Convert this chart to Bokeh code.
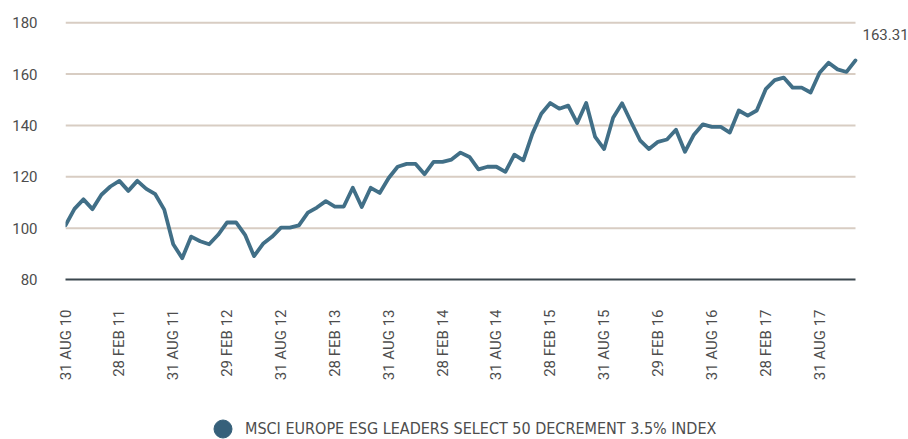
import math
from bokeh.plotting import figure
from bokeh.layouts import column
from bokeh.models import FixedTicker, Range1d, Label, Legend, LegendItem, ColumnDataSource
from bokeh.embed import file_html
from bokeh.resources import INLINE

series_name = "MSCI EUROPE ESG LEADERS SELECT 50 DECREMENT 3.5% INDEX"

# Month-end index levels, Aug 2010 .. Dec 2017
index_values = [
    101.1, 107.5, 111.2, 107.4, 113.0, 116.2, 118.4, 114.5, 118.4, 115.3,
    113.2, 107.2, 93.7, 88.3, 96.7, 94.9, 93.7, 97.4, 102.2, 102.2,
    97.4, 89.1, 93.9, 96.6, 100.2, 100.2, 101.1, 106.0, 108.0, 110.5,
    108.4, 108.4, 115.7, 108.2, 115.7, 113.7, 119.5, 123.9, 125.0, 125.0,
    121.0, 125.8, 125.8, 126.7, 129.4, 127.7, 122.9, 123.9, 123.9, 121.9,
    128.6, 126.4, 136.7, 144.5, 148.7, 146.5, 147.7, 140.9, 148.7, 135.5,
    130.8, 143.0, 148.6, 141.3, 134.2, 130.8, 133.6, 134.5, 138.3, 129.7,
    136.4, 140.4, 139.4, 139.4, 137.2, 145.8, 143.8, 145.8, 154.1, 157.6,
    158.6, 154.7, 154.7, 152.8, 160.5, 164.4, 161.8, 160.8, 165.3,
]
months = list(range(len(index_values)))

tick_months = [0, 6, 12, 18, 24, 30, 36, 42, 48, 54, 60, 66, 72, 78, 84]
tick_labels = ["31 AUG 10", "28 FEB 11", "31 AUG 11", "29 FEB 12", "31 AUG 12",
               "28 FEB 13", "31 AUG 13", "28 FEB 14", "31 AUG 14", "28 FEB 15",
               "31 AUG 15", "29 FEB 16", "31 AUG 16", "28 FEB 17", "31 AUG 17"]
y_ticks = [80, 100, 120, 140, 160, 180]
grid_levels = [100, 120, 140, 160, 180]
end_label = "163.31"

LINE = "#416f87"
GRID = "#d8cdc3"
TEXT = "#4d4d4d"
DOT = "#36607a"

W = 908
LEFT = 65
DATA_W = 790                      # pixel width of the data span
FRAME_W = W - LEFT
x_end = months[-1] * FRAME_W / DATA_W   # extra room on the right for the end label

p = figure(width=W, height=389, output_backend="svg", toolbar_location=None,
           x_range=Range1d(months[0], x_end), y_range=Range1d(80, 182),
           min_border_left=LEFT, min_border_right=0, min_border_top=17,
           min_border_bottom=110)
p.outline_line_color = None
p.background_fill_color = "white"
p.border_fill_color = "white"
p.xgrid.grid_line_color = None
p.ygrid.grid_line_color = None

# horizontal grid lines spanning the data period only
p.segment(x0=[months[0]] * len(grid_levels), x1=[months[-1]] * len(grid_levels),
          y0=grid_levels, y1=grid_levels, line_color=GRID, line_width=2)

src = ColumnDataSource(dict(x=months, y=index_values))
p.line("x", "y", source=src, line_color=LINE, line_width=3.8, line_join="round", line_cap="round")

# x axis
p.xaxis.bounds = (months[0], months[-1])
p.xaxis.ticker = FixedTicker(ticks=tick_months)
p.xaxis.major_label_overrides = {m: lab for m, lab in zip(tick_months, tick_labels)}
p.xaxis.major_label_orientation = math.pi / 2
p.xaxis.major_label_text_font = "Roboto"
p.xaxis.major_label_text_font_size = "15px"
p.xaxis.major_label_text_color = TEXT
p.xaxis.major_label_standoff = 24
p.xaxis.axis_line_color = "#3b474e"
p.xaxis.axis_line_width = 2
p.xaxis.major_tick_line_color = None
p.xaxis.minor_tick_line_color = None

# y axis
p.yaxis.ticker = FixedTicker(ticks=y_ticks)
p.yaxis.major_label_text_font = "Roboto"
p.yaxis.major_label_text_font_size = "15px"
p.yaxis.major_label_text_color = TEXT
p.yaxis.major_tick_out = 0
p.yaxis.major_tick_in = 0
p.yaxis.major_label_standoff = 28
p.yaxis.axis_line_color = None
p.yaxis.major_tick_line_color = None
p.yaxis.minor_tick_line_color = None

# end value label
p.add_layout(Label(x=months[-1], y=180, x_offset=7, y_offset=-12, text=end_label,
                   text_font="Roboto", text_font_size="15px", text_color=TEXT,
                   text_baseline="middle", text_align="left"))

# legend strip
lg = figure(width=W, height=50, output_backend="svg", toolbar_location=None,
            x_range=Range1d(0, 1), y_range=Range1d(0, 1), min_border=0)
lg.axis.visible = False
lg.grid.grid_line_color = None
lg.outline_line_color = None
# swatch renderer: one point placed outside the visible range, only its legend glyph shows
dot = lg.scatter(x=[-5], y=[-5], marker="circle", size=18, fill_color=DOT, line_color=DOT)
legend = Legend(items=[LegendItem(label=series_name, renderers=[dot])],
                location=(135, -12), orientation="horizontal",
                glyph_width=45, glyph_height=45, label_standoff=0,
                padding=0, margin=0, spacing=0,
                border_line_color=None, background_fill_alpha=0,
                label_text_font="DejaVu Sans Condensed", label_text_font_size="16px",
                label_text_color=TEXT)
lg.add_layout(legend, "center")

open("out.html", "w").write(file_html(column(p, lg, spacing=0), INLINE))
